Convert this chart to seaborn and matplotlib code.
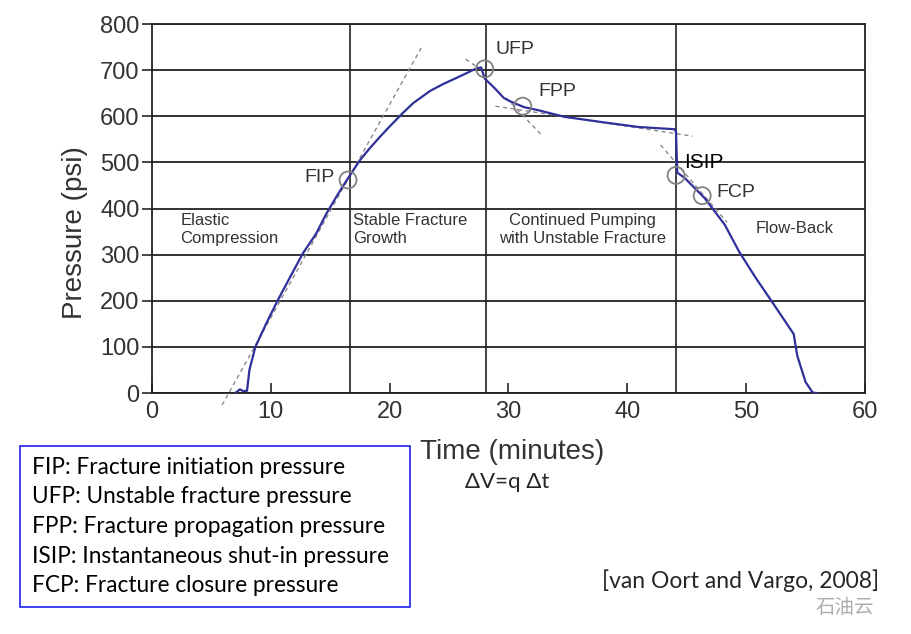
import pandas as pd
import seaborn as sns
import matplotlib.pyplot as plt
from matplotlib.patches import Rectangle

# pressure record
time_min = [7.0, 7.4, 7.7, 8.0, 8.2, 8.7, 9.6, 10.6, 11.7, 12.7, 13.8, 14.7, 15.5, 16.4,
            17.5, 18.3, 19.2, 20.0, 21.1, 22.0, 23.4, 24.5, 25.6, 26.5, 27.3, 27.7,
            28.0, 28.8, 29.6, 30.1, 31.3, 32.4, 34.7, 38.0, 40.9, 44.0, 44.1, 44.2,
            44.8, 46.5, 48.2, 49.4, 50.8, 52.2, 54.0, 54.3, 55.0, 55.6, 56.0]
pressure_psi = [0, 8, 4, 5, 50, 100, 150, 202, 255, 303, 345, 390, 425, 462,
                505, 530, 556, 578, 607, 629, 655, 670, 683, 694, 704, 706,
                682, 662, 640, 633, 620, 614, 599, 587, 577, 572, 565, 478,
                467, 423, 365, 307, 250, 197, 128, 81, 24, 1, 0]

# key points
point_names = ['FIP', 'UFP', 'FPP', 'ISIP', 'FCP']
point_time = [16.5, 28.0, 31.2, 44.1, 46.3]
point_psi = [462, 703, 622, 472, 428]

# dashed tangent lines (t0, p0, t1, p1)
tangents = [(5.9, -26, 22.8, 755),
            (26.4, 724, 27.3, 708),
            (28.9, 622, 45.5, 557),
            (29.8, 640, 32.7, 562),
            (42.8, 538, 48.4, 370)]

# phase boundaries and labels
phase_bounds = [16.7, 28.1, 44.1]
phase_text = ['Elastic\nCompression', 'Stable Fracture\nGrowth',
              'Continued Pumping\nwith Unstable Fracture', 'Flow-Back']

glossary = ['FIP: Fracture initiation pressure',
            'UFP: Unstable fracture pressure',
            'FPP: Fracture propagation pressure',
            'ISIP: Instantaneous shut-in pressure',
            'FCP: Fracture closure pressure']

sns.set_style('white')
plt.rcParams['font.family'] = ['Liberation Sans', 'DejaVu Sans']

fig = plt.figure(figsize=(9.11, 6.34), dpi=100)
ax = fig.add_axes([0.1668, 0.380, 0.7827, 0.582])

df = pd.DataFrame({'Time': time_min, 'Pressure': pressure_psi})
pts = pd.DataFrame({'Time': point_time, 'Pressure': point_psi, 'Name': point_names})

for t0, p0, t1, p1 in tangents:
    ax.plot([t0, t1], [p0, p1], color='#8a8a8a', lw=1.0, ls=(0, (3, 2.5)),
            clip_on=False, zorder=2)

sns.lineplot(data=df, x='Time', y='Pressure', color='#2f2f9a', lw=1.6,
             estimator=None, sort=False, ax=ax, zorder=4)
sns.scatterplot(data=pts, x='Time', y='Pressure', marker='o', s=150,
                facecolor='none', edgecolor='#808080', linewidth=1.3, ax=ax, zorder=5)

for b in phase_bounds:
    ax.axvline(b, color='#222222', lw=1.2, zorder=1)

ax.set_xlim(0, 60)
ax.set_ylim(0, 800)
ax.set_xticks(range(0, 61, 10))
ax.set_yticks(range(0, 801, 100))
ax.yaxis.grid(True, color='#222222', lw=1.3)
ax.set_axisbelow(True)
for s in ax.spines.values():
    s.set_color('#222222')
    s.set_linewidth(1.3)
ax.tick_params(axis='y', direction='out', length=7, width=1.2, labelsize=17,
               labelcolor='#333333', left=True, pad=2)
ax.tick_params(axis='x', direction='in', length=7, width=1.2, labelsize=17,
               labelcolor='#333333', bottom=True, pad=6)

ax.set_xlabel('Time (minutes)', fontsize=20, color='#333333')
ax.xaxis.set_label_coords(0.505, -0.125)
ax.set_ylabel('Pressure (psi)', fontsize=20, color='#333333')
ax.yaxis.set_label_coords(-0.09, 0.436)

# point labels
ax.text(15.4, 468, 'FIP', fontsize=14, color='#333333', ha='right', va='center')
ax.text(28.9, 744, 'UFP', fontsize=14, color='#333333', ha='left', va='center')
ax.text(32.5, 653, 'FPP', fontsize=14, color='#333333', ha='left', va='center')
ax.text(44.8, 500, 'ISIP', fontsize=15, color='black', ha='left', va='center')
ax.text(47.5, 434, 'FCP', fontsize=14, color='#333333', ha='left', va='center')

# phase labels
ax.text(2.4, 355, phase_text[0], fontsize=12, color='#333333', ha='left', va='center',
        linespacing=1.3)
ax.text(16.9, 355, phase_text[1], fontsize=12, color='#333333', ha='left', va='center',
        linespacing=1.3)
ax.text(36.2, 355, phase_text[2], fontsize=12, color='#333333', ha='center', va='center',
        linespacing=1.3)
ax.text(54.1, 356, phase_text[3], fontsize=12, color='#333333', ha='center', va='center')

# glossary box
fig.patches.append(Rectangle((0.022, 0.0426), 0.428, 0.254, transform=fig.transFigure,
                             facecolor='none', edgecolor='#2020ee', lw=1.2))
cal = ['Lato', 'DejaVu Sans']
for i, line in enumerate(glossary):
    fig.text(0.035, 0.2634 - i * 0.0469, line, fontsize=16.3, family=cal,
             ha='left', va='center', color='black')

fig.text(0.51, 0.24, 'ΔV=q Δt', fontsize=16, family=cal, ha='left', va='center')
fig.text(0.661, 0.0836, '[van Oort and Vargo, 2008]', fontsize=16.5, family=cal,
         ha='left', va='center')
fig.text(0.895, 0.042, '石油云', fontsize=14, family=['Noto Sans CJK SC', 'DejaVu Sans'],
         ha='left', va='center', color='#999999', alpha=0.8)

fig.savefig('out.png', dpi=100)
